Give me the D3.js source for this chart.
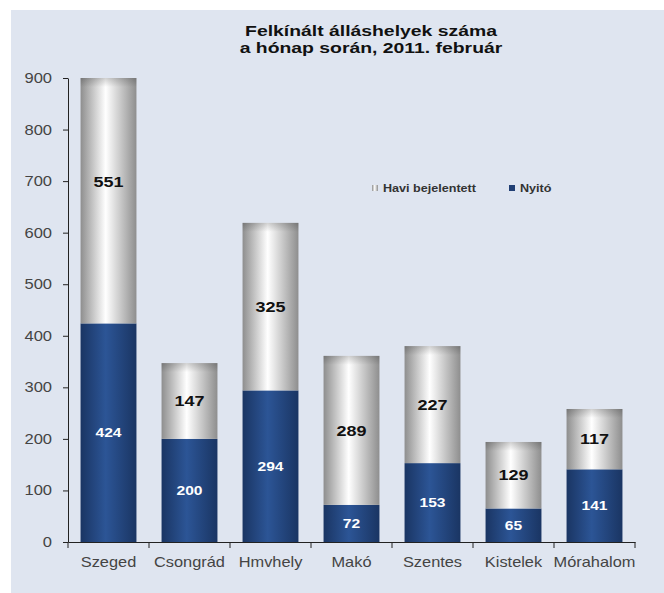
<!DOCTYPE html>
<html>
<head>
<meta charset="utf-8">
<script src="https://cdn.jsdelivr.net/npm/d3@7"></script>
<style>
  body { margin: 0; background: #fff; }
  svg { display: block; font-family: "Liberation Sans", Arial, sans-serif; }
</style>
</head>
<body>
<script>
var categories = ["Szeged", "Csongrád", "Hmvhely", "Makó", "Szentes", "Kistelek", "Mórahalom"];
var nyito = [424, 200, 294, 72, 153, 65, 141];
var haviBejelentett = [551, 147, 325, 289, 227, 129, 117];
var yTicks = [0, 100, 200, 300, 400, 500, 600, 700, 800, 900];
var seriesNames = ["Havi bejelentett", "Nyitó"];

var width = 664, height = 593;
var margin = {left: 68, right: 29, top: 78, bottom: 51};

var svg = d3.select("body").append("svg")
    .attr("width", width)
    .attr("height", height);

// the source image is a bit wide, so text gets stretched sideways
function stretch(sel, sx) {
  sel.each(function() {
    var t = d3.select(this);
    var x0 = +t.attr("x") || 0;
    t.attr("x", x0 / sx).attr("transform", "scale(" + sx + ",1)");
    t.selectAll("tspan").each(function() {
      var s = d3.select(this);
      if (s.attr("x") != null) s.attr("x", +s.attr("x") / sx);
    });
  });
}

// gradients for the cylinder-ish bars
var defs = svg.append("defs");
var gBlue = defs.append("linearGradient").attr("id", "blue").attr("x1", "0").attr("x2", "1").attr("y1", "0").attr("y2", "0");
gBlue.append("stop").attr("offset", "0%").attr("stop-color", "#1a3563");
gBlue.append("stop").attr("offset", "45%").attr("stop-color", "#2c5596");
gBlue.append("stop").attr("offset", "100%").attr("stop-color", "#1a3563");
var gGray = defs.append("linearGradient").attr("id", "gray").attr("x1", "0").attr("x2", "1").attr("y1", "0").attr("y2", "0");
gGray.append("stop").attr("offset", "0%").attr("stop-color", "#8e8e8e");
gGray.append("stop").attr("offset", "45%").attr("stop-color", "#ffffff");
gGray.append("stop").attr("offset", "100%").attr("stop-color", "#8e8e8e");
var gCap = defs.append("linearGradient").attr("id", "cap").attr("x1", "0").attr("x2", "0").attr("y1", "0").attr("y2", "1");
gCap.append("stop").attr("offset", "0%").attr("stop-color", "#000").attr("stop-opacity", 0.18);
gCap.append("stop").attr("offset", "100%").attr("stop-color", "#000").attr("stop-opacity", 0);

// background panel
svg.append("rect")
    .attr("x", 11).attr("y", 10)
    .attr("width", width - 11).attr("height", height - 10)
    .attr("fill", "#dfe5f0");

var x = d3.scaleBand()
    .domain(categories)
    .range([margin.left, width - margin.right])
    .paddingInner(0.31)
    .paddingOuter(0.155);

var y = d3.scaleLinear()
    .domain([0, 900])
    .range([height - margin.bottom, margin.top]);

defs.append("clipPath").attr("id", "plot")
  .append("rect")
    .attr("x", margin.left).attr("y", margin.top)
    .attr("width", width - margin.left - margin.right)
    .attr("height", height - margin.top - margin.bottom);

var rows = categories.map(function(c, i) {
  return {cat: c, nyito: nyito[i], havi: haviBejelentett[i]};
});

var bars = svg.append("g").attr("clip-path", "url(#plot)");

bars.selectAll("rect.nyito")
    .data(rows)
    .enter().append("rect")
    .attr("class", "nyito")
    .attr("x", function(d) { return x(d.cat); })
    .attr("width", x.bandwidth())
    .attr("y", function(d) { return y(d.nyito); })
    .attr("height", function(d) { return y(0) - y(d.nyito); })
    .attr("fill", "url(#blue)");

bars.selectAll("rect.havi")
    .data(rows)
    .enter().append("rect")
    .attr("class", "havi")
    .attr("x", function(d) { return x(d.cat); })
    .attr("width", x.bandwidth())
    .attr("y", function(d) { return y(d.nyito + d.havi); })
    .attr("height", function(d) { return y(d.nyito) - y(d.nyito + d.havi); })
    .attr("fill", "url(#gray)");

// darker band at the top of each stack (3d cap look)
svg.selectAll("rect.cap")
    .data(rows)
    .enter().append("rect")
    .attr("class", "cap")
    .attr("x", function(d) { return x(d.cat); })
    .attr("width", x.bandwidth())
    .attr("y", function(d) { return Math.max(y(d.nyito + d.havi), margin.top); })
    .attr("height", 9)
    .attr("fill", "url(#cap)");

// value labels
var lblN = svg.selectAll("text.lblN")
    .data(rows)
    .enter().append("text")
    .attr("x", function(d) { return x(d.cat) + x.bandwidth() / 2; })
    .attr("y", function(d) { return y(d.nyito / 2); })
    .attr("dy", "0.35em")
    .attr("text-anchor", "middle")
    .attr("font-size", 13)
    .attr("font-weight", "bold")
    .attr("fill", "#fff")
    .text(function(d) { return d.nyito; });
stretch(lblN, 1.2);

var lblH = svg.selectAll("text.lblH")
    .data(rows)
    .enter().append("text")
    .attr("x", function(d) { return x(d.cat) + x.bandwidth() / 2; })
    .attr("y", function(d) { return y(d.nyito + d.havi / 2); })
    .attr("dy", "0.35em")
    .attr("text-anchor", "middle")
    .attr("font-size", 15)
    .attr("font-weight", "bold")
    .attr("fill", "#111")
    .text(function(d) { return d.havi; });
stretch(lblH, 1.2);

// axes
var yAxis = svg.append("g")
    .attr("transform", "translate(" + margin.left + ",0)")
    .call(d3.axisLeft(y).tickValues(yTicks).tickSize(5).tickPadding(11).tickSizeOuter(0));

var xAxis = svg.append("g")
    .attr("transform", "translate(0," + y(0) + ")")
    .call(d3.axisBottom(x).tickSize(0).tickPadding(15).tickSizeOuter(0));

// ticks between categories
var bounds = categories.map(function(c) { return x(c) - x.step() * x.paddingInner() / 2; });
bounds.push(width - margin.right);
xAxis.selectAll("line.sep")
    .data(bounds)
    .enter().append("line")
    .attr("class", "sep")
    .attr("x1", function(d) { return d; })
    .attr("x2", function(d) { return d; })
    .attr("y1", 0).attr("y2", 6)
    .attr("stroke", "#222");

[yAxis, xAxis].forEach(function(a) {
  a.selectAll("path.domain").attr("stroke", "#222");
  a.selectAll(".tick line").attr("stroke", "#222");
  a.selectAll("text").attr("font-family", "Liberation Sans, Arial, sans-serif")
    .attr("font-size", 14).attr("fill", "#444");
});
stretch(yAxis.selectAll(".tick text"), 1.18);
stretch(xAxis.selectAll(".tick text"), 1.17);

// title
var title = svg.append("text")
    .attr("x", 371).attr("y", 36)
    .attr("text-anchor", "middle")
    .attr("font-size", 15.5)
    .attr("font-weight", "bold")
    .attr("fill", "#111");
title.append("tspan").attr("x", 371).text("Felkínált álláshelyek száma");
title.append("tspan").attr("x", 371).attr("dy", 17).text("a hónap során, 2011. február");
stretch(title, 1.25);

// legend
var legendX = [372, 509];
var legendFill = ["url(#gray)", "#213f74"];
var legend = svg.selectAll("g.leg")
    .data(seriesNames)
    .enter().append("g")
    .attr("transform", function(d, i) { return "translate(" + legendX[i] + ",188)"; });
legend.append("rect")
    .attr("x", 0).attr("y", -3)
    .attr("width", 6).attr("height", 6)
    .attr("fill", function(d, i) { return legendFill[i]; });
var legText = legend.append("text")
    .attr("x", 11).attr("y", 0)
    .attr("dy", "0.35em")
    .attr("font-size", 10.5)
    .attr("font-weight", "bold")
    .attr("fill", "#333")
    .text(function(d) { return d; });
stretch(legText, 1.2);
</script>
</body>
</html>
